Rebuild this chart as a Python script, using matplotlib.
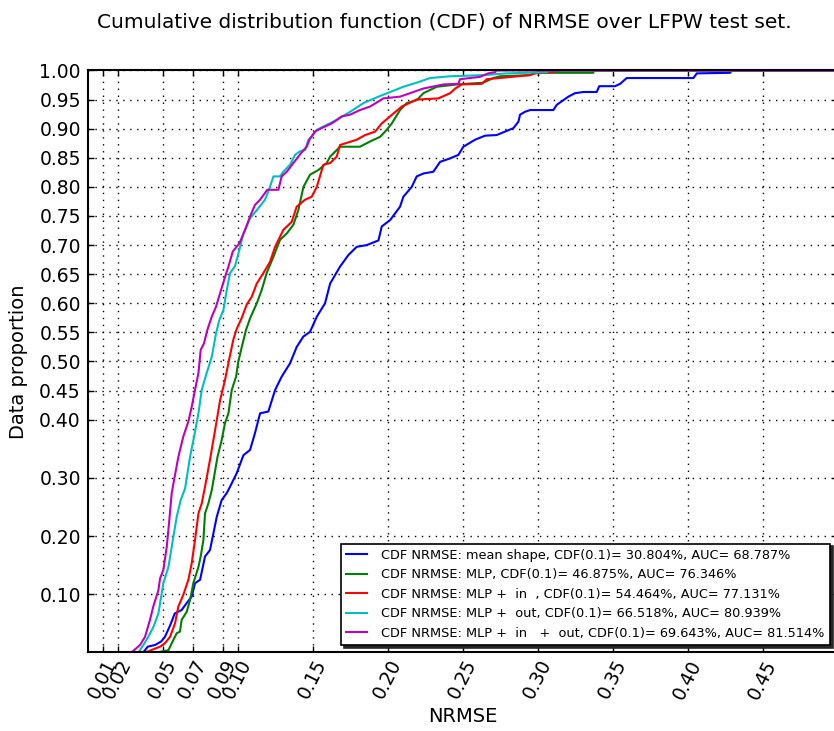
import matplotlib
matplotlib.use("Agg")
import matplotlib.pyplot as plt

plt.rcParams['font.family'] = ['DejaVu Sans']

# CDF curves (NRMSE, data proportion)
blue_x = [0, 0.037, 0.040, 0.045, 0.049, 0.0515, 0.055, 0.058, 0.0626, 0.066, 0.0693, 0.0715, 0.0749,
          0.0782, 0.0815, 0.0838, 0.086, 0.0893, 0.0927, 0.0949, 0.0993, 0.1038, 0.1082, 0.1115, 0.1149,
          0.1204, 0.1249, 0.1293, 0.1349, 0.1393, 0.1438, 0.1482, 0.1527, 0.1582, 0.1616, 0.1682, 0.1738,
          0.1793, 0.186, 0.1938, 0.196, 0.2016, 0.2082, 0.2104, 0.216, 0.2193, 0.2238, 0.2304, 0.2349,
          0.2416, 0.2471, 0.2504, 0.2582, 0.2649, 0.2726, 0.2838, 0.2871, 0.2882, 0.2915, 0.2949, 0.3104,
          0.3127, 0.316, 0.3204, 0.3249, 0.3304, 0.3393, 0.341, 0.3515, 0.3549, 0.3593, 0.4038, 0.406,
          0.4282, 0.4293, 0.5]
blue_y = [0, 0, 0.010, 0.013, 0.019, 0.027, 0.047, 0.067, 0.073, 0.085, 0.096, 0.119, 0.125,
          0.165, 0.176, 0.205, 0.233, 0.262, 0.274, 0.285, 0.308, 0.339, 0.348, 0.377, 0.411,
          0.414, 0.451, 0.474, 0.497, 0.525, 0.543, 0.551, 0.577, 0.600, 0.634, 0.663, 0.683,
          0.697, 0.700, 0.708, 0.732, 0.743, 0.766, 0.783, 0.800, 0.818, 0.823, 0.826, 0.843,
          0.849, 0.855, 0.869, 0.881, 0.888, 0.889, 0.901, 0.912, 0.924, 0.929, 0.932, 0.932,
          0.941, 0.947, 0.955, 0.961, 0.963, 0.963, 0.973, 0.973, 0.977, 0.987, 0.987, 0.995,
          0.996, 1.0, 1.0]

green_x = [0, 0.0459, 0.0538, 0.056, 0.0593, 0.0615, 0.0626, 0.066, 0.0682, 0.0704, 0.0738, 0.0753,
           0.0771, 0.0782, 0.0804, 0.0827, 0.0865, 0.0893, 0.0915, 0.0938, 0.096, 0.0989, 0.1004,
           0.1027, 0.1055, 0.1082, 0.1127, 0.116, 0.1193, 0.1238, 0.1282, 0.1327, 0.1371, 0.1404,
           0.1438, 0.1482, 0.1538, 0.1593, 0.1616, 0.1682, 0.1815, 0.1882, 0.1949, 0.1993, 0.2027,
           0.2082, 0.2127, 0.2193, 0.2238, 0.2327, 0.246, 0.2637, 0.2704, 0.2749, 0.2949, 0.2993,
           0.3371, 0.3371, 0.5]
green_y = [0, 0, 0.004, 0.016, 0.033, 0.036, 0.056, 0.070, 0.090, 0.119, 0.147, 0.165,
           0.193, 0.239, 0.256, 0.279, 0.336, 0.365, 0.394, 0.411, 0.451, 0.474, 0.500,
           0.525, 0.554, 0.574, 0.600, 0.623, 0.652, 0.680, 0.709, 0.720, 0.735, 0.760,
           0.800, 0.821, 0.829, 0.841, 0.852, 0.869, 0.869, 0.878, 0.886, 0.898, 0.909,
           0.932, 0.944, 0.949, 0.961, 0.972, 0.976, 0.979, 0.987, 0.990, 0.992, 0.996,
           0.996, 1.0, 1.0]

red_x = [0, 0.0382, 0.0482, 0.0515, 0.0549, 0.0582, 0.0604, 0.0637, 0.0671, 0.0693, 0.0715, 0.0738,
         0.076, 0.0782, 0.0815, 0.0849, 0.0882, 0.0915, 0.0944, 0.0971, 0.0993, 0.1027, 0.106, 0.1093,
         0.1127, 0.1171, 0.1215, 0.1249, 0.1304, 0.136, 0.1393, 0.1449, 0.1493, 0.1527, 0.1571, 0.1616,
         0.166, 0.1682, 0.1793, 0.1849, 0.1916, 0.196, 0.2038, 0.2093, 0.2193, 0.2337, 0.2416, 0.245,
         0.2493, 0.2626, 0.266, 0.2949, 0.2971, 0.306, 0.315, 0.5]
red_y = [0, 0, 0.010, 0.016, 0.027, 0.050, 0.079, 0.099, 0.125, 0.153, 0.193, 0.239,
         0.256, 0.285, 0.331, 0.382, 0.433, 0.468, 0.505, 0.538, 0.556, 0.575, 0.598, 0.611,
         0.634, 0.652, 0.671, 0.697, 0.726, 0.740, 0.766, 0.778, 0.783, 0.800, 0.838, 0.841,
         0.852, 0.872, 0.881, 0.889, 0.895, 0.909, 0.926, 0.938, 0.950, 0.952, 0.961, 0.969,
         0.976, 0.977, 0.985, 0.992, 0.995, 0.996, 1.0, 1.0]

cyan_x = [0, 0.0338, 0.0371, 0.0404, 0.0438, 0.0471, 0.0504, 0.0538, 0.0571, 0.0593, 0.062, 0.0649,
          0.0682, 0.0709, 0.0738, 0.076, 0.0789, 0.0827, 0.0855, 0.0877, 0.0904, 0.0927, 0.0949, 0.0982,
          0.1004, 0.1038, 0.1082, 0.1127, 0.1182, 0.1215, 0.1238, 0.1282, 0.1304, 0.1349, 0.1382, 0.1415,
          0.1449, 0.1471, 0.1493, 0.1527, 0.1659, 0.1749, 0.1838, 0.1938, 0.2016, 0.2104, 0.2193, 0.2282,
          0.2416, 0.2637, 0.2793, 0.306, 0.3082, 0.5]
cyan_y = [0, 0, 0.013, 0.027, 0.044, 0.067, 0.119, 0.147, 0.199, 0.233, 0.262, 0.282,
          0.336, 0.371, 0.411, 0.451, 0.477, 0.508, 0.548, 0.571, 0.588, 0.623, 0.652, 0.664,
          0.685, 0.720, 0.746, 0.760, 0.778, 0.800, 0.818, 0.818, 0.826, 0.838, 0.855, 0.861,
          0.863, 0.881, 0.886, 0.898, 0.915, 0.929, 0.944, 0.955, 0.963, 0.972, 0.979, 0.987,
          0.990, 0.992, 0.995, 0.997, 1.0, 1.0]

magenta_x = [0, 0.0291, 0.0349, 0.0382, 0.0415, 0.0437, 0.0471, 0.0482, 0.0504, 0.0527, 0.0544, 0.056,
             0.0571, 0.0604, 0.0637, 0.0671, 0.0693, 0.0715, 0.0738, 0.0753, 0.0775, 0.0797, 0.0827,
             0.0855, 0.0882, 0.0909, 0.0938, 0.0967, 0.1011, 0.1049, 0.1082, 0.1115, 0.1149, 0.1197,
             0.1271, 0.1293, 0.1327, 0.1371, 0.1404, 0.1438, 0.146, 0.1482, 0.1515, 0.156, 0.1627,
             0.1693, 0.1749, 0.1815, 0.1882, 0.1971, 0.2082, 0.2149, 0.2238, 0.2371, 0.2471, 0.2482,
             0.2615, 0.267, 0.2715, 0.2726, 0.5]
magenta_y = [0, 0, 0.013, 0.027, 0.056, 0.079, 0.107, 0.127, 0.142, 0.182, 0.228, 0.274,
             0.290, 0.336, 0.371, 0.397, 0.422, 0.451, 0.480, 0.520, 0.531, 0.554, 0.577,
             0.594, 0.617, 0.640, 0.663, 0.689, 0.703, 0.726, 0.749, 0.769, 0.778, 0.795,
             0.795, 0.818, 0.826, 0.841, 0.852, 0.863, 0.869, 0.883, 0.895, 0.901, 0.909,
             0.921, 0.924, 0.932, 0.938, 0.952, 0.955, 0.961, 0.969, 0.976, 0.977, 0.985,
             0.989, 0.995, 0.997, 1.0, 1.0]

labels = [
    "CDF NRMSE: mean shape, CDF(0.1)= 30.804%, AUC= 68.787%",
    "CDF NRMSE: MLP, CDF(0.1)= 46.875%, AUC= 76.346%",
    "CDF NRMSE: MLP +  in  , CDF(0.1)= 54.464%, AUC= 77.131%",
    "CDF NRMSE: MLP +  out, CDF(0.1)= 66.518%, AUC= 80.939%",
    "CDF NRMSE: MLP +  in   +  out, CDF(0.1)= 69.643%, AUC= 81.514%",
]
xticks = [0.01, 0.02, 0.05, 0.07, 0.09, 0.10, 0.15, 0.20, 0.25, 0.30, 0.35, 0.40, 0.45]
yticks = [0.10, 0.20, 0.30, 0.40, 0.45, 0.50, 0.55, 0.60, 0.65, 0.70, 0.75, 0.80, 0.85, 0.90, 0.95, 1.00]

fig = plt.figure(figsize=(8.34, 7.31), dpi=100)
ax = fig.add_axes([0.1052, 0.1074, 0.8993, 0.7962])

curves = [(blue_x, blue_y, 'b'), (green_x, green_y, 'g'), (red_x, red_y, 'r'),
          (cyan_x, cyan_y, 'c'), (magenta_x, magenta_y, 'm')]
for (xs, ys, col), lab in zip(curves, labels):
    ax.plot(xs, ys, color=col, lw=1.5, label=lab)

ax.set_xlim(0, 0.5)
ax.set_ylim(0, 1.0)
ax.set_xticks(xticks)
ax.set_xticklabels(["%.2f" % v for v in xticks], rotation=63, fontsize=13.5)
ax.set_yticks(yticks)
ax.set_yticklabels(["%.2f" % v for v in yticks], fontsize=13.5)
ax.tick_params(direction='in', top=True, right=True, length=4, width=1, pad=5)
ax.tick_params(axis='x', pad=3)
ax.grid(True, color='k', linestyle=(0, (1, 4)), linewidth=1)
for s in ax.spines.values():
    s.set_linewidth(1.5)

ax.set_xlabel("NRMSE", fontsize=14, labelpad=3)
ax.set_ylabel("Data proportion", fontsize=14, labelpad=8)
ax.set_title("Cumulative distribution function (CDF) of NRMSE over LFPW test set.",
             fontsize=14.5, pad=31, x=0.476)

leg = ax.legend(loc='lower right', fontsize=9.3, fancybox=False, edgecolor='k',
                framealpha=1, handlelength=1.6, handletextpad=1.15, labelspacing=0.5,
                borderaxespad=0.6, shadow={'color': '0.15', 'alpha': 1.0})
leg.get_frame().set_linewidth(1.2)

fig.savefig("out.png", dpi=100)
